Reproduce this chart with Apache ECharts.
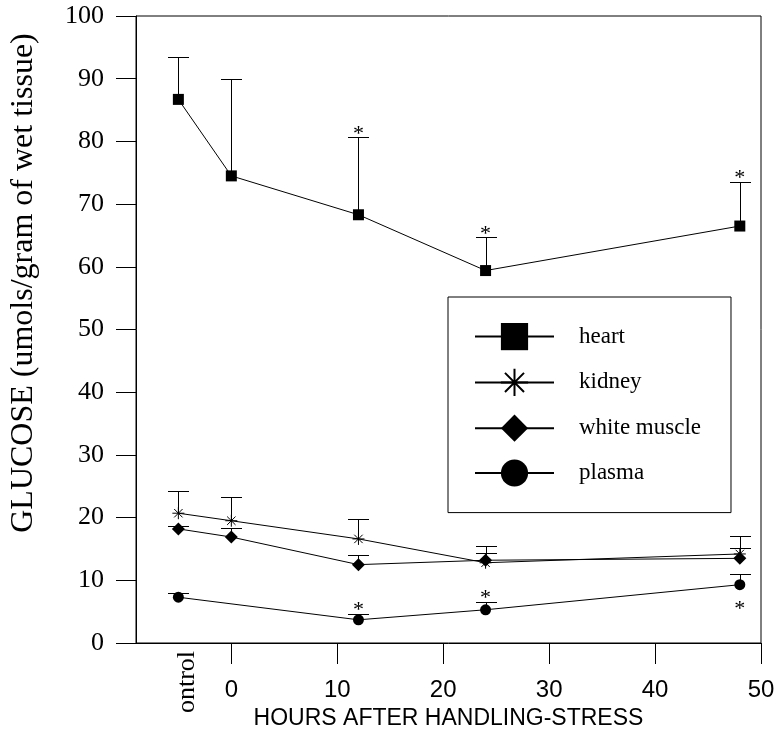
<!DOCTYPE html>
<html>
<head>
<meta charset="utf-8">
<script src="https://cdn.jsdelivr.net/npm/echarts@6/dist/echarts.min.js"></script>
<style>html,body{margin:0;padding:0;background:#fff}#c{width:782px;height:738px}</style>
</head>
<body>
<div id="c"></div>
<script>
// ---- data ----
const hours = [-5, 0, 12, 24, 48];
const heart = [86.7, 74.5, 68.3, 59.4, 66.5];
const heartUpper = [93.5, 89.9, 80.7, 64.7, 73.6];
const kidney = [20.7, 19.5, 16.6, 12.8, 14.2];
const kidneyUpper = [24.3, 23.3, 19.8, 15.4, 17.1];
const muscle = [18.2, 16.9, 12.5, 13.2, 13.5];
const muscleUpper = [18.6, 18.3, 14.1, 14.3, 15.1];
const plasma = [7.3, null, 3.7, 5.3, 9.3];
const plasmaUpper = [8.0, null, 4.7, 6.6, 11.0];
// significance asterisks: [hour, anchor value, side (1 above cap, -1 below point)]
const sigHours = [12, 24, 48, 12, 24, 48];
const sigValues = [80.7, 64.7, 73.6, 4.7, 6.6, 9.3];
const sigSide = [1, 1, 1, 1, 1, -1];
const xTickValues = [0, 10, 20, 30, 40, 50];
const seriesNames = ['heart', 'kidney', 'white muscle', 'plasma'];
const xName = 'HOURS AFTER HANDLING-STRESS';
const yName = 'GLUCOSE (umols/gram of wet tissue)';
const controlText = 'ontrol';

const SERIF = '"Liberation Serif", "Times New Roman", serif';
const SANS = '"Liberation Sans", Arial, sans-serif';

function pts(vals) { return hours.map((h, i) => [h, vals[i]]); }
function errData(vals, ups) {
  const out = [];
  hours.forEach((h, i) => { if (vals[i] != null && ups[i] != null) out.push([h, vals[i], ups[i]]); });
  return out;
}
const errAll = [].concat(errData(heart, heartUpper), errData(kidney, kidneyUpper),
  errData(muscle, muscleUpper), errData(plasma, plasmaUpper));
const sigData = sigHours.map((h, i) => [h, sigValues[i], sigSide[i]]);

const starPath = 'path://M0,-10L0,10M-10,0L10,0M-7,-7L7,7M-7,7L7,-7';

const chart = echarts.init(document.getElementById('c'), null, { renderer: 'canvas' });
const lineBase = {
  type: 'line', z: 3, connectNulls: true,
  lineStyle: { color: '#000', width: 1 },
  itemStyle: { color: '#000' },
  emphasis: { disabled: true }, animation: false
};
chart.setOption({
  animation: false,
  grid: { left: 135, right: 21, top: 16, bottom: 95, show: true, borderColor: '#000', borderWidth: 1, backgroundColor: 'transparent' },
  xAxis: {
    type: 'value', min: -9, max: 50,
    name: xName, nameLocation: 'middle', nameGap: 63,
    nameTextStyle: { fontFamily: SANS, fontSize: 23, color: '#000' },
    axisLine: { show: true, onZero: false, lineStyle: { color: '#000', width: 1 } },
    axisTick: { show: true, length: 21, customValues: xTickValues, lineStyle: { color: '#000' } },
    axisLabel: { customValues: xTickValues, margin: 35, fontFamily: SANS, fontSize: 24, color: '#000' },
    splitLine: { show: false }
  },
  yAxis: {
    type: 'value', min: 0, max: 100, interval: 10,
    name: yName, nameLocation: 'middle', nameRotate: 90, nameGap: 96,
    nameTextStyle: { fontFamily: SERIF, fontSize: 32, color: '#000', padding: [0, 0, 0, 93] },
    axisLine: { show: true, onZero: false, lineStyle: { color: '#000', width: 1 } },
    axisTick: { show: true, length: 20, lineStyle: { color: '#000' } },
    axisLabel: { margin: 32, fontFamily: SERIF, fontSize: 26, color: '#000' },
    splitLine: { show: false }
  },
  legend: {
    data: seriesNames, orient: 'vertical', left: 448, top: 297,
    padding: [26, 30, 26, 26], itemGap: 17.6, itemWidth: 79, itemHeight: 34,
    borderColor: '#000', borderWidth: 1,
    textStyle: { fontFamily: SERIF, fontSize: 23, color: '#000', padding: [0, 0, 0, 20] },
    selectedMode: false
  },
  graphic: [{
    type: 'text', x: 187, y: 682, rotation: Math.PI / 2,
    style: { text: controlText, font: '26px ' + SERIF, fill: '#000', align: 'center', verticalAlign: 'middle' }
  }],
  series: [
    Object.assign({}, lineBase, { name: 'heart', data: pts(heart), symbol: 'rect', symbolSize: 11 }),
    Object.assign({}, lineBase, { name: 'kidney', data: pts(kidney), symbol: starPath, symbolSize: 12,
      itemStyle: { color: '#000', borderColor: '#000', borderWidth: 1 } }),
    Object.assign({}, lineBase, { name: 'white muscle', data: pts(muscle), symbol: 'diamond', symbolSize: 13 }),
    Object.assign({}, lineBase, { name: 'plasma', data: pts(plasma), symbol: 'circle', symbolSize: 11 }),
    {
      type: 'custom', name: 'errors', z: 2, data: errAll, encode: { x: 0, y: [1, 2] },
      renderItem: function (params, api) {
        const p = api.coord([api.value(0), api.value(1)]);
        const t = api.coord([api.value(0), api.value(2)]);
        const x = Math.round(p[0]) + 0.5, yt = Math.round(t[1]) + 0.5;
        return { type: 'group', children: [
          { type: 'line', shape: { x1: x, y1: p[1], x2: x, y2: yt }, style: { stroke: '#000', lineWidth: 1 } },
          { type: 'line', shape: { x1: x - 10.5, y1: yt, x2: x + 10.5, y2: yt }, style: { stroke: '#000', lineWidth: 1 } }
        ] };
      }
    },
    {
      type: 'custom', name: 'significance', z: 4, data: sigData, encode: { x: 0, y: 1 },
      renderItem: function (params, api) {
        const p = api.coord([api.value(0), api.value(1)]);
        const side = api.value(2);
        return { type: 'text', x: p[0], y: side > 0 ? p[1] - 3 : p[1] + 25,
          style: { text: '*', font: '22px ' + SERIF, fill: '#000', align: 'center', verticalAlign: 'middle' } };
      }
    }
  ]
});
</script>
</body>
</html>
